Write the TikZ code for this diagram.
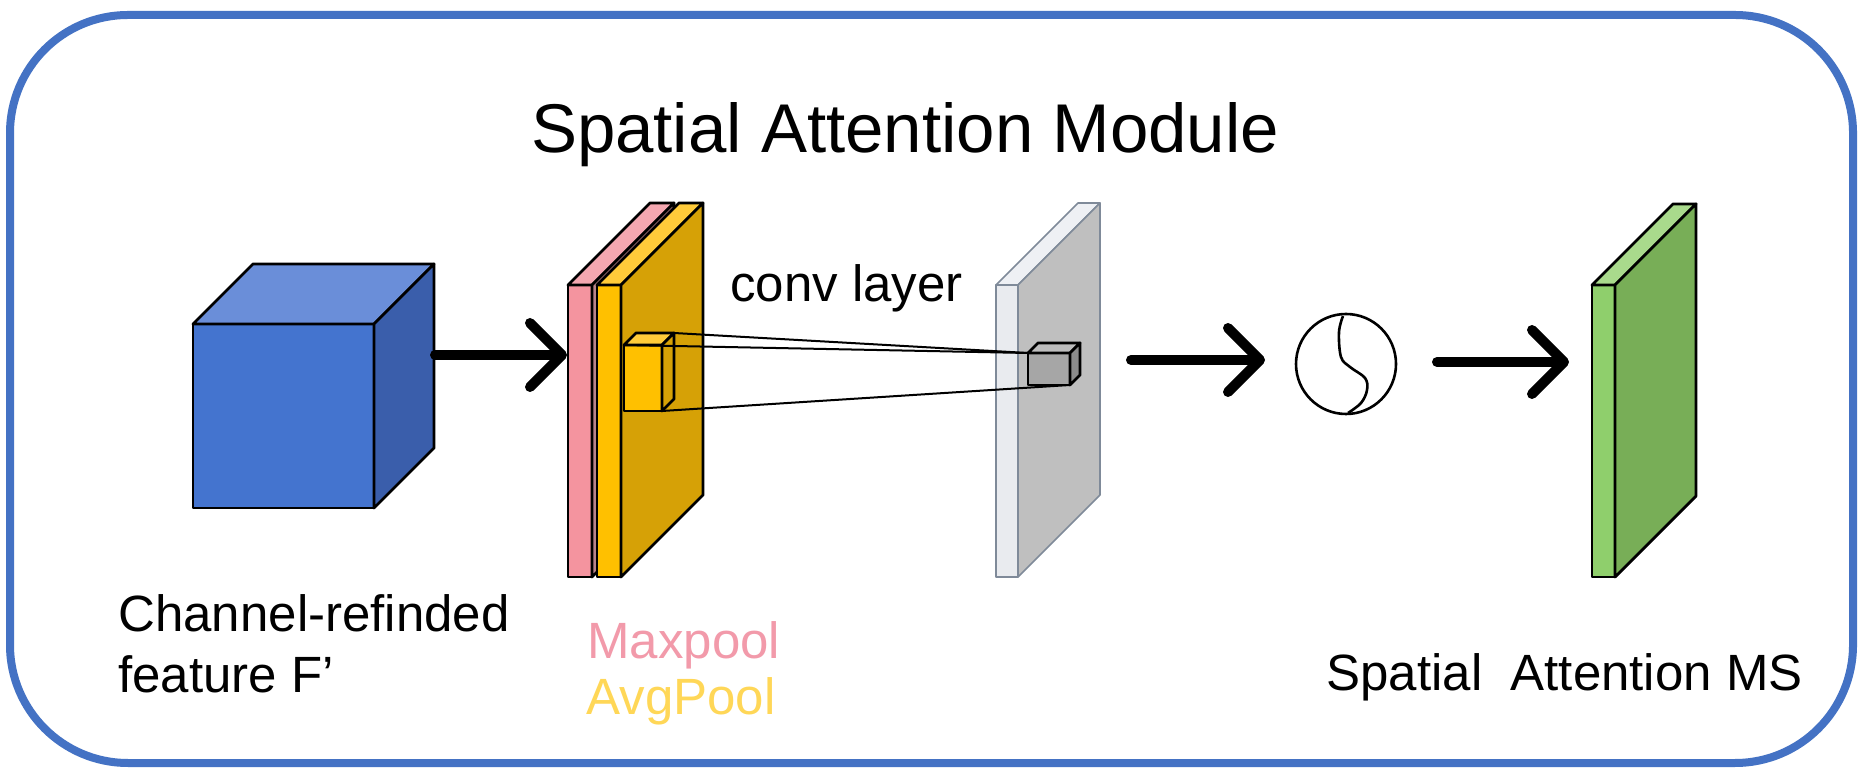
\documentclass[tikz,border=0pt]{standalone}
\usepackage{fontspec}
\setmainfont{Liberation Sans}
\usetikzlibrary{arrows.meta}
\definecolor{frameblue}{HTML}{4472C4}
\definecolor{bluefront}{HTML}{4474CF}
\definecolor{bluetop}{HTML}{6A8ED9}
\definecolor{blueside}{HTML}{3A5EAB}
\definecolor{pinkfront}{HTML}{F4949F}
\definecolor{pinktop}{HTML}{F4A7B0}
\definecolor{pinkside}{HTML}{B9838A}
\definecolor{yelfront}{HTML}{FFC000}
\definecolor{yeltop}{HTML}{FFCB3A}
\definecolor{yelside}{HTML}{D6A106}
\definecolor{grayfront}{HTML}{E9EBEF}
\definecolor{graytop}{HTML}{EEF0F4}
\definecolor{grayside}{HTML}{BFBFBF}
\definecolor{grayedge}{HTML}{7F8A99}
\definecolor{cubefront}{HTML}{A6A6A6}
\definecolor{cubetop}{HTML}{BDBDBD}
\definecolor{cubeside}{HTML}{8C8C8C}
\definecolor{greenfront}{HTML}{8FCF6C}
\definecolor{greentop}{HTML}{A9DA8C}
\definecolor{greenside}{HTML}{78AE57}
\definecolor{maxcol}{HTML}{F29AAA}
\definecolor{avgcol}{HTML}{FFD757}
% #1 x, #2 y (front top-left), #3 w, #4 h, #5 depth, #6 front, #7 top, #8 side, #9 edge style
\newcommand{\prism}[9]{%
  \filldraw[fill=#6,#9] (#1,#2) rectangle ++(#3,#4);
  \filldraw[fill=#7,#9] (#1,#2) -- ++(#5,-#5) -- ++(#3,0) -- ++(-#5,#5) -- cycle;
  \filldraw[fill=#8,#9] (#1+#3,#2) -- ++(#5,-#5) -- ++(0,#4) -- ++(-#5,#5) -- cycle;
}
\tikzset{
  blackedge/.style={draw=black, line width=1.4pt, line join=round},
  grayedgestyle/.style={draw=grayedge, line width=0.8pt, line join=round},
  flow/.style={line width=5pt, line cap=round, -{Straight Barb[length=16pt, width=32pt, round]}},
  label/.style={inner sep=0pt, font=\fontsize{25.5pt}{30pt}\selectfont},
  projline/.style={line width=1pt, black}
}
\begin{document}
\begin{tikzpicture}[x=0.5pt, y=-0.5pt]
\useasboundingbox (0,0) rectangle (1867,779);
\fill[white] (0,0) rectangle (1867,779);
% frame
\draw[frameblue, line width=4pt, rounded corners=59pt] (10,15) rectangle (1853,763);
% title
\node[inner sep=0pt, anchor=base, font=\fontsize{34.5pt}{40pt}\selectfont] (title) at (905,153) {Spatial Attention Module};
% blue cube
\prism{193}{324}{181}{184}{60}{bluefront}{bluetop}{blueside}{blackedge}
% pink and yellow slabs
\prism{568}{285}{24}{292}{82}{pinkfront}{pinktop}{pinkside}{blackedge}
\prism{597}{285}{24}{292}{82}{yelfront}{yeltop}{yelside}{blackedge}
% small yellow cube
\prism{624}{345}{38}{66}{12}{yelfront}{yeltop}{yelside}{blackedge}
% gray slab
\prism{996}{285}{22}{292}{82}{grayfront}{graytop}{grayside}{grayedgestyle}
% small gray cube
\prism{1028}{353}{42}{32}{10}{cubefront}{cubetop}{cubeside}{blackedge}
% green slab
\prism{1592}{285}{23}{292}{81}{greenfront}{greentop}{greenside}{blackedge}
% named coordinates
\coordinate (ycA) at (674,333);
\coordinate (ycB) at (624,345);
\coordinate (ycC) at (662,411);
\coordinate (gcA) at (1028,353);
\coordinate (gcC) at (1070,385);
\coordinate (cubeout) at (435,355);
\coordinate (poolin) at (567,355);
\coordinate (convout) at (1131,360);
\coordinate (sigin) at (1265,360);
\coordinate (sigout) at (1437,362);
\coordinate (msin) at (1569,362);
% projection lines
\draw[projline] (ycA) -- (gcA);
\draw[projline] (ycB) -- (gcA);
\draw[projline] (ycC) -- (gcC);
% sigmoid circle
\node[circle, draw=black, line width=1.3pt, minimum size=50pt, inner sep=0pt] (sig) at (1346,364) {};
\draw[line width=1.3pt, black] plot[smooth, tension=0.6] coordinates {(1343,316) (1339,332) (1341,357) (1350,367) (1365,378) (1367,390) (1361,403) (1348,413)};
% arrows
\draw[flow] (cubeout) -- (poolin);
\draw[flow] (convout) -- (sigin);
\draw[flow] (sigout) -- (msin);
% labels
\node[label, anchor=base west] (conv) at (730,302) {conv layer};
\node[label, anchor=base west] (ch1) at (118,632) {Channel-refinded};
\node[label, anchor=base west] (ch2) at (118,692) {feature F’};
\node[label, anchor=base west, text=maxcol] (maxp) at (587,658) {Maxpool};
\node[label, anchor=base west, text=avgcol] (avgp) at (586,714) {AvgPool};
\node[label, anchor=base west] (sams) at (1326,690) {Spatial\ \ Attention MS};
\end{tikzpicture}
\end{document}
